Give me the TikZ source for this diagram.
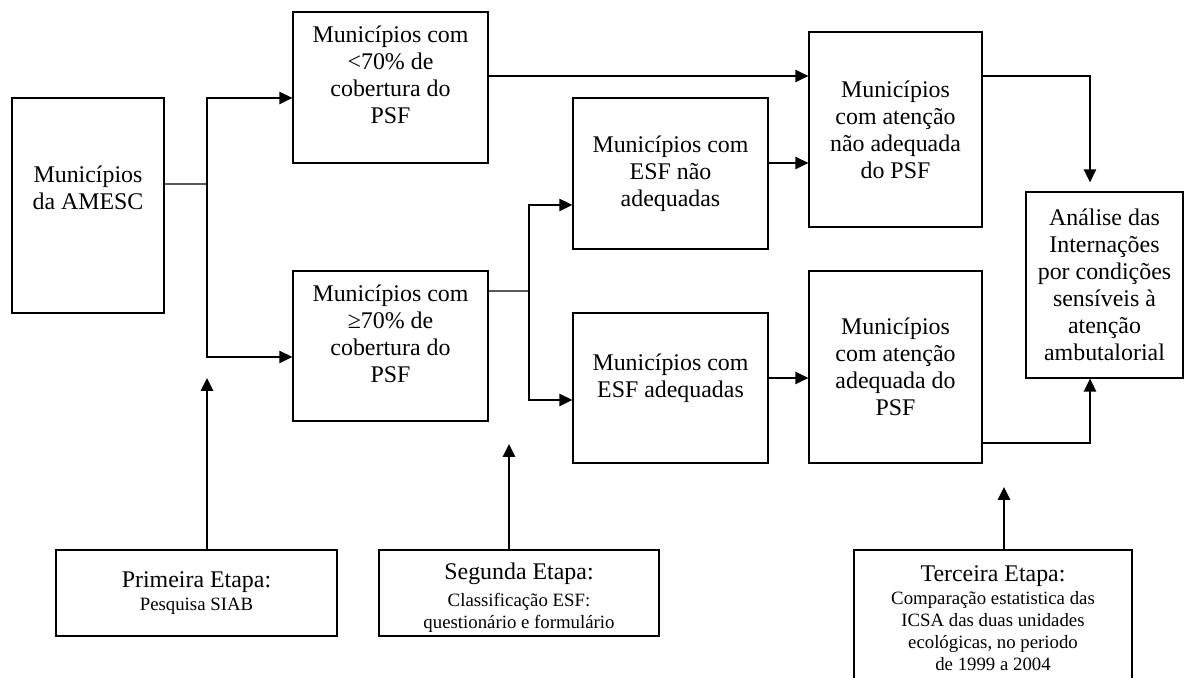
\documentclass[tikz,border=0pt]{standalone}
\usepackage{fontspec}
\setmainfont{Liberation Serif}
\usetikzlibrary{arrows.meta}
\newcommand{\etapa}{\fontsize{10.7}{12.3}\selectfont}
\tikzstyle{box} = [rectangle, draw, line width=0.8pt, align=center, inner sep=2pt, font=\fontsize{13.6}{15.4}\selectfont]
\tikzstyle{group} = [box, minimum width=3.9cm, minimum height=3.02cm]
\tikzstyle{result} = [box, minimum width=3.46cm]
\tikzstyle{stage} = [box, minimum width=5.6cm, minimum height=1.72cm]
\tikzstyle{wire} = [line width=0.8pt]
\tikzstyle{link} = [line width=0.8pt, ->, >={Triangle[length=2.6mm, width=2.5mm]}]

\begin{document}
\begin{tikzpicture}[x=0.02cm, y=-0.02cm]
\useasboundingbox (0,0) rectangle (1188,678);
\clip (0,0) rectangle (1188,678);
\node (amesc) [box, minimum width=3.04cm, minimum height=4.3cm, text depth=0.7cm] at (88,205.5) {Municípios\\da AMESC};
\node (menos) [group, text depth=0.5cm] at (390.5,87.5) {Municípios com\\<70\% de\\cobertura do\\PSF};
\node (mais) [group, minimum height=3cm, text depth=0.5cm] at (390.5,346) {Municípios com\\≥70\% de\\cobertura do\\PSF};
\node (esfnao) [group] at (670.5,173.5) {Municípios com\\ESF não\\adequadas};
\node (esfsim) [group, minimum height=3cm, text depth=0.5cm] at (670.5,388) {Municípios com\\ESF adequadas};
\node (atnao) [result, minimum height=3.9cm] at (895.5,129.5) {Municípios\\com atenção\\não adequada\\do PSF};
\node (atsim) [result, minimum height=3.84cm] at (895.5,367) {Municípios\\com atenção\\adequada do\\PSF};
\node (analise) [box, minimum width=3.14cm, minimum height=3.72cm] at (1104.5,285) {Análise das\\Internações\\por condições\\sensíveis à\\atenção\\ambutalorial};
\node (etapa1) [stage, minimum width=5.62cm] at (196.5,593) {Primeira Etapa:\\[-2pt]\etapa Pesquisa SIAB};
\node (etapa2) [stage, text height=1.5cm] at (519,593) {Segunda Etapa:\\\etapa Classificação ESF:\\[-3pt]\etapa questionário e formulário};
\node (etapa3) [stage, minimum width=5.56cm, minimum height=2.72cm] at (993,618) {Terceira Etapa:\\[-2pt]\etapa Comparação estatistica das\\[-3pt]\etapa ICSA das duas unidades\\[-3pt]\etapa ecológicas, no periodo\\[-3pt]\etapa de 1999 a 2004};

% pontos de ramificacao
\coordinate (split1) at (207,184);
\coordinate (split2) at (529,291);
\coordinate (tip1) at (207,378);
\coordinate (tip2) at (509,444);
\coordinate (tip3) at (1004,487);

\draw [wire] ([yshift=0.43cm]amesc.east) -- (split1);
\draw [link] (split1) |- ([yshift=-0.21cm]menos.west);
\draw [link] (split1) |- ([yshift=-0.22cm]mais.west);
\draw [wire] ([yshift=1.1cm]mais.east) -- (split2);
\draw [link] (split2) |- ([yshift=-0.63cm]esfnao.west);
\draw [link] (split2) |- ([yshift=-0.24cm]esfsim.west);
\draw [link] ([yshift=0.23cm]menos.east) -- ([yshift=0.23cm]menos.east -| atnao.west);
\draw [link] ([yshift=0.21cm]esfnao.east) -- ([yshift=0.21cm]esfnao.east -| atnao.west);
\draw [link] ([yshift=0.2cm]esfsim.east) -- ([yshift=0.2cm]esfsim.east -| atsim.west);
\draw [link, shorten >=0.18cm] ([yshift=1.07cm]atnao.east) -| ([xshift=-0.29cm]analise.north);
\draw [link] ([yshift=-1.52cm]atsim.east) -| ([xshift=-0.29cm]analise.south);
\draw [link] (etapa1.north -| tip1) -- (tip1);
\draw [link] (etapa2.north -| tip2) -- (tip2);
\draw [link] (etapa3.north -| tip3) -- (tip3);
\end{tikzpicture}
\end{document}
